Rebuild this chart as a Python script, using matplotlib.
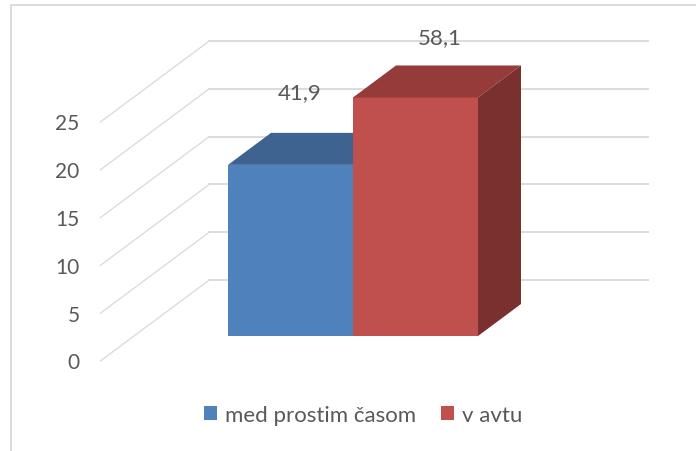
import matplotlib
matplotlib.use('Agg')
import matplotlib.pyplot as plt
from matplotlib.lines import Line2D
from matplotlib.patches import Polygon

plt.rcParams['font.family'] = ['Lato', 'DejaVu Sans']

# data, bar heights (labels are typed by hand in the original)
series = ['med prostim časom', 'v avtu']
heights = [17.9, 24.95]
value_labels = ['41,9', '58,1']
y_ticks = [0, 5, 10, 15, 20, 25]

colors = ['#4F81BD', '#C0504D']
top_colors = ['#3E6390', '#953B39']
side_color = '#7A302E'
grid_color = '#DCDCDC'
text_color = '#595959'

# pixel scale of the oblique view
W, H = 696, 452
px_x = 125.0   # one category unit
px_y = 9.56    # one value unit
x0_px, y0_px = 228, 337
ddx = 43 / px_x   # shift for one bar depth
ddy = 32 / px_y

floor_front = -0.78
wall_back = 1.75
wall_left = -0.752
wall_right = 2.76


def proj(x, y, d):
    return x + d * ddx, y + d * ddy


fig = plt.figure(figsize=(W / 100, H / 100), dpi=100)
ax = fig.add_axes([0, 0, 1, 1])
ax.set_xlim(-x0_px / px_x, (W - x0_px) / px_x)
ax.set_ylim((y0_px - H) / px_y, y0_px / px_y)
ax.axis('off')

# outer frame, only top and left show
fig.add_artist(Line2D([10.5 / W, 10.5 / W, 1], [0, 1 - 5.5 / H, 1 - 5.5 / H],
                      color='#D9D9D9', lw=1.3))

# gridlines
for t in y_ticks:
    a = proj(wall_left, t, floor_front)
    b = proj(wall_left, t, wall_back)
    c = proj(wall_right, t, wall_back)
    ax.plot([a[0], b[0]], [a[1], b[1]], color=grid_color, lw=1.0, zorder=1)
    ax.plot([b[0], c[0]], [b[1], c[1]], color=grid_color, lw=1.4, zorder=1)
    ax.annotate(str(t), a, xytext=(-21 * 0.72, -1.0), textcoords='offset points',
                ha='right', va='center', fontsize=15, color=text_color)

# bars
fronts = ax.bar([0.5, 1.5], heights, width=1.0, color=colors, zorder=3, label='_')
for i, h in enumerate(heights):
    l, r = i, i + 1
    top = [proj(l, h, 0), proj(r, h, 0), proj(r, h, 1), proj(l, h, 1)]
    ax.add_patch(Polygon(top, closed=True, fc=top_colors[i], ec='none', zorder=2 + i))
side_h = heights[1]
side = [proj(2, 0, 0), proj(2, side_h, 0), proj(2, side_h, 1), proj(2, 0, 1)]
ax.add_patch(Polygon(side, closed=True, fc=side_color, ec='none', zorder=3))

# value labels sit where they were dragged to in the original
label_shift = [(9.5, 41), (24.5, 28)]
for i, h in enumerate(heights):
    dx, dy = label_shift[i]
    ax.annotate(value_labels[i], (i + 0.5, h), xytext=(dx * 0.72, (dy + 32) * 0.72),
                textcoords='offset points', ha='center', va='center',
                fontsize=16, color=text_color, zorder=5)

leg = ax.legend(fronts.patches, series, loc='center', bbox_to_anchor=(363 / W, 1 - 416 / H),
                ncol=2, frameon=False, fontsize=16, labelcolor=text_color,
                handlelength=0.6, handleheight=0.63, handletextpad=0.35,
                columnspacing=1.1)

fig.savefig('out.png', dpi=100)
